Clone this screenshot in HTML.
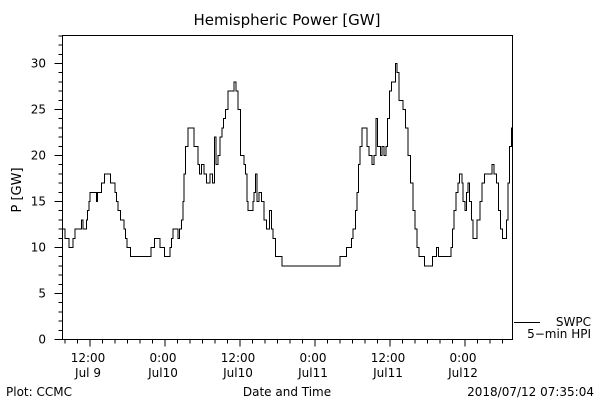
<!DOCTYPE html>
<html><head><meta charset="utf-8">
<style>
html,body{margin:0;padding:0;background:#fff;}
svg{display:block;font-family:"DejaVu Sans","Liberation Sans",sans-serif;}
</style></head>
<body>
<svg id="chart" width="600" height="400" viewBox="0 0 600 400">
  <rect x="0" y="0" width="600" height="400" fill="#fff"/>
  <text x="287" y="25" font-size="15" text-anchor="middle">Hemispheric Power [GW]</text>
  <text transform="translate(21,190) rotate(-90)" font-size="13" text-anchor="middle">P [GW]</text>
  <text x="287" y="396" font-size="12" text-anchor="middle">Date and Time</text>
  <text x="6" y="396" font-size="12">Plot: CCMC</text>
  <text x="594" y="396" font-size="12" text-anchor="end">2018/07/12 07:35:04</text>
  <rect x="62.5" y="35.5" width="450" height="304" fill="none" stroke="#000" stroke-width="1" shape-rendering="crispEdges"/>
  <g id="yticks" shape-rendering="crispEdges"></g>
  <g id="xticks"></g>
  <path id="series" fill="none" stroke="#000" stroke-width="1" shape-rendering="crispEdges"/>
  <g>
    <line x1="514" y1="322.5" x2="540" y2="322.5" stroke="#000" shape-rendering="crispEdges"/>
    <text x="591" y="326" font-size="12" text-anchor="end">SWPC</text>
    <text x="591" y="338" font-size="12" text-anchor="end">5−min HPI</text>
  </g>
</svg>
<script>
// hours since 2018-07-09 00:00 UT
const times = [7.6,7.97,8.6,9.25,9.57,10.64,10.85,11.4,11.6,11.8,12.03,12.24,13.0,13.2,13.84,14.32,15.28,15.97,16.24,16.5,16.88,17.4,17.68,17.95,18.2,18.48,21.79,22.32,23.17,23.92,24.77,25.04,25.25,26.1,26.32,26.64,26.85,27.0,27.28,27.7,28.6,29.3,29.52,29.84,30.2,30.6,31.17,31.6,31.92,32.13,32.45,32.77,33.15,33.4,33.68,34.05,35.0,35.33,35.7,36.08,36.6,36.88,37.1,37.3,38.05,38.27,38.48,38.7,39.0,39.44,39.8,40.2,40.72,41.0,41.3,41.68,42.75,52.0,53.04,53.84,54.1,54.48,54.75,54.96,55.17,55.55,56.35,56.67,57.1,57.4,57.72,58.04,58.48,58.75,59.0,59.33,59.6,59.92,60.2,60.88,61.15,61.4,62.1,62.48,62.85,63.28,63.65,64.03,64.35,64.67,65.5,66.8,67.44,67.76,69.8,70.0,70.2,70.52,70.84,71.16,71.48,71.7,71.97,72.24,72.45,72.72,73.0,73.3,73.95,74.37,74.7,75.12,76.3,76.6,77.04,77.36,77.68,78.0,78.64,78.85,79.08,79.4];
const power = [12,11,10,11,12,13,12,13,14,15,16,16,15,16,17,18,17,16,15,14,13,12,11,10,10,9,10,11,10,9,10,11,12,11,12,13,15,18,21,23,21,19,18,19,18,17,18,17,22,19,20,22,23,24,25,27,28,27,25,20,19,18,15,14,15,16,18,15,16,15,13,12,14,12,11,9,8,9,10,11,12,14,16,19,21,23,21,20,19,20,24,21,20,21,20,21,24,27,28,30,29,26,25,23,20,17,14,12,10,9,8,9,10,9,10,12,14,16,17,18,17,15,14,16,17,15,13,11,13,15,17,18,19,18,17,14,12,11,13,17,21,23];
const yTickLabels = [0,5,10,15,20,25,30];
const xTickHours = [12,24,36,48,60,72];
const xTickLabels = [["12:00","Jul 9"],["0:00","Jul10"],["12:00","Jul10"],["0:00","Jul11"],["12:00","Jul11"],["0:00","Jul12"]];
const T0 = 7.6, T1 = 79.6, END = 79.6;
const X0 = 62.5, X1 = 512.5, Y0 = 339.5, PXU = 9.2;
const sx = h => X0 + (h - T0) / (T1 - T0) * (X1 - X0);
const sy = v => Y0 - v * PXU;
const NS = "http://www.w3.org/2000/svg";
function mk(tag, attrs, parent){ const e=document.createElementNS(NS,tag); for(const k in attrs) e.setAttribute(k,attrs[k]); parent.appendChild(e); return e; }

let d = "M" + sx(times[0]).toFixed(1) + "," + sy(power[0]).toFixed(1);
for (let i = 1; i < times.length; i++) {
  d += "H" + sx(times[i]).toFixed(1) + "V" + sy(power[i]).toFixed(1);
}
d += "H" + sx(END).toFixed(1);
document.getElementById("series").setAttribute("d", d);

const yg = document.getElementById("yticks");
for (let v = 0; v <= 33; v++) {
  const major = v % 5 === 0;
  const t = mk("line", {x1: X0 - (major ? 8 : 4), x2: X0, y1: sy(v), y2: sy(v), stroke: "#000"}, yg);
  
  
}
yTickLabels.forEach(v => {
  const t = mk("text", {x: 46, y: sy(v) + 4, "font-size": 12, "text-anchor": "end"}, yg);
  t.textContent = String(v);
  
  
});
const xg = document.getElementById("xticks");
for (let h = 8; h <= 78; h += 2) {
  const major = h % 12 === 0;
  const t = mk("line", {x1: sx(h), x2: sx(h), y1: Y0, y2: Y0 + (major ? 7 : 4), stroke: "#000"}, xg);
  
  
}
xTickHours.forEach((h, i) => {
  const a = mk("text", {x: sx(h) - 2, y: 362, "font-size": 12, "text-anchor": "middle"}, xg);
  a.textContent = xTickLabels[i][0];
  
  
  const b = mk("text", {x: sx(h) - 2, y: 377, "font-size": 12, "text-anchor": "middle"}, xg);
  b.textContent = xTickLabels[i][1];
  
  
});
</script>
</body></html>
